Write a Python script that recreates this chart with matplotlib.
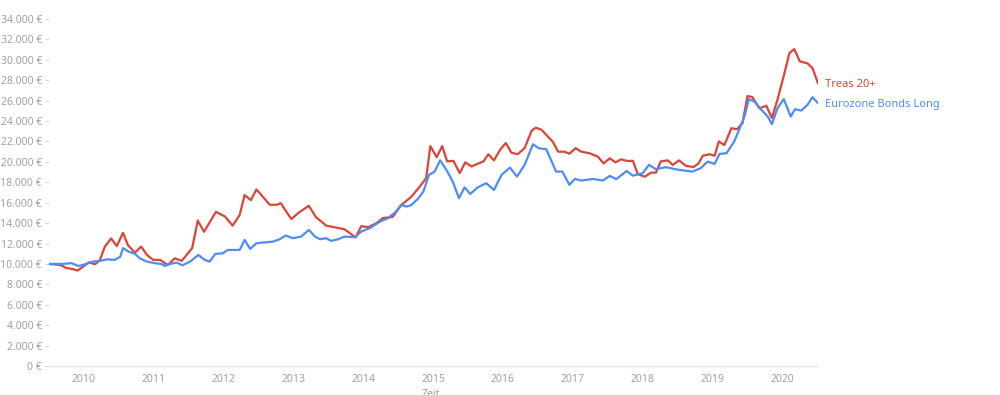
"""Treas 20+ vs Eurozone Bonds Long, growth of 10.000 €"""
import matplotlib
matplotlib.use("Agg")
from matplotlib import pyplot as plt
from matplotlib.ticker import FuncFormatter

# values (decimal year, portfolio value in €)
treas_t = [2009.50, 2009.66, 2009.75, 2009.84, 2009.91, 2009.99, 2010.07, 2010.16, 2010.23, 2010.30,
           2010.39, 2010.47, 2010.56, 2010.63, 2010.73, 2010.82, 2010.90, 2010.99, 2011.09, 2011.20,
           2011.30, 2011.40, 2011.55, 2011.63, 2011.72, 2011.89, 2012.02, 2012.13, 2012.23, 2012.30,
           2012.39, 2012.47, 2012.56, 2012.66, 2012.76, 2012.82, 2012.88, 2012.97, 2013.07, 2013.22,
           2013.32, 2013.47, 2013.62, 2013.73, 2013.81, 2013.89, 2013.97, 2014.07, 2014.19, 2014.28,
           2014.42, 2014.54, 2014.69, 2014.81, 2014.90, 2014.96, 2015.05, 2015.13, 2015.20, 2015.29,
           2015.38, 2015.46, 2015.55, 2015.65, 2015.72, 2015.79, 2015.87, 2015.96, 2016.04, 2016.12,
           2016.21, 2016.31, 2016.41, 2016.47, 2016.55, 2016.64, 2016.71, 2016.79, 2016.88, 2016.95,
           2017.04, 2017.12, 2017.24, 2017.36, 2017.44, 2017.53, 2017.61, 2017.69, 2017.77, 2017.86,
           2017.93, 2018.03, 2018.12, 2018.19, 2018.26, 2018.36, 2018.43, 2018.52, 2018.62, 2018.73,
           2018.80, 2018.86, 2018.96, 2019.03, 2019.09, 2019.17, 2019.27, 2019.35, 2019.43, 2019.50,
           2019.57, 2019.67, 2019.77, 2019.85, 2019.93, 2020.03, 2020.10, 2020.17, 2020.25, 2020.36,
           2020.43, 2020.51]
treas_v = [10000, 9900, 9600, 9500, 9350, 9750, 10150, 9970, 10400, 11700,
           12500, 11750, 13050, 11850, 11100, 11700, 10900, 10400, 10400, 9900,
           10550, 10300, 11550, 14250, 13150, 15100, 14650, 13750, 14800, 16750,
           16250, 17300, 16600, 15800, 15800, 15950, 15300, 14400, 15000, 15700,
           14600, 13750, 13550, 13400, 13000, 12600, 13700, 13600, 14000, 14500,
           14600, 15750, 16600, 17600, 18400, 21550, 20450, 21550, 20050, 20100,
           18900, 19950, 19550, 19850, 20050, 20750, 20150, 21200, 21850, 20900,
           20750, 21350, 23050, 23350, 23150, 22500, 22000, 21000, 21000, 20800,
           21350, 21000, 20850, 20500, 19850, 20350, 19950, 20250, 20100, 20100,
           18800, 18550, 18950, 18950, 20050, 20150, 19700, 20150, 19600, 19500,
           19850, 20600, 20750, 20600, 22000, 21650, 23300, 23200, 23800, 26450,
           26350, 25250, 25500, 24300, 26100, 28700, 30650, 31050, 29850, 29650,
           29200, 27700]

euro_t = [2009.50, 2009.66, 2009.73, 2009.82, 2009.92, 2010.02, 2010.13, 2010.23, 2010.33, 2010.44,
          2010.52, 2010.56, 2010.64, 2010.73, 2010.80, 2010.90, 2011.02, 2011.11, 2011.16, 2011.23,
          2011.33, 2011.41, 2011.52, 2011.64, 2011.73, 2011.80, 2011.88, 2011.99, 2012.06, 2012.23,
          2012.30, 2012.38, 2012.47, 2012.71, 2012.80, 2012.89, 2012.99, 2013.11, 2013.22, 2013.31,
          2013.38, 2013.47, 2013.54, 2013.64, 2013.73, 2013.88, 2013.97, 2014.09, 2014.24, 2014.35,
          2014.47, 2014.54, 2014.62, 2014.69, 2014.79, 2014.86, 2014.94, 2015.02, 2015.10, 2015.19,
          2015.28, 2015.37, 2015.45, 2015.53, 2015.64, 2015.76, 2015.87, 2015.98, 2016.10, 2016.20,
          2016.31, 2016.43, 2016.51, 2016.62, 2016.76, 2016.85, 2016.95, 2017.03, 2017.12, 2017.29,
          2017.43, 2017.53, 2017.62, 2017.77, 2017.86, 2018.00, 2018.09, 2018.19, 2018.33, 2018.52,
          2018.71, 2018.83, 2018.93, 2019.03, 2019.10, 2019.20, 2019.31, 2019.41, 2019.46, 2019.52,
          2019.60, 2019.70, 2019.79, 2019.85, 2019.93, 2020.02, 2020.12, 2020.18, 2020.27, 2020.36,
          2020.43, 2020.51]
euro_v = [10000, 10000, 10020, 10080, 9800, 9970, 10230, 10300, 10450, 10400,
          10700, 11550, 11200, 11000, 10550, 10230, 10070, 10000, 9800, 10000,
          10130, 9870, 10230, 10880, 10390, 10230, 10980, 11050, 11370, 11370,
          12350, 11470, 12030, 12190, 12420, 12780, 12520, 12680, 13330, 12680,
          12420, 12520, 12260, 12420, 12680, 12620, 13170, 13500, 14150, 14480,
          15130, 15780, 15620, 15780, 16440, 17090, 18730, 19050, 20150, 19220,
          18070, 16440, 17510, 16860, 17510, 17910, 17250, 18730, 19440, 18560,
          19710, 21730, 21340, 21240, 19050, 19050, 17750, 18330, 18170, 18330,
          18170, 18630, 18300, 19100, 18650, 18890, 19710, 19280, 19480, 19220,
          19050, 19380, 20030, 19800, 20780, 20850, 21990, 23630, 24510, 26150,
          25910, 25100, 24440, 23700, 25260, 26150, 24440, 25160, 25030, 25590,
          26340, 25750]

years = list(range(2010, 2021))
yticks = list(range(0, 34001, 2000))

RED = "#db4437"
BLUE = "#4e8cf5"
GREY = "#a0a0a0"

plt.rcParams['font.family'] = ['Noto Sans', 'DejaVu Sans']

fig = plt.figure(figsize=(10, 3.95), dpi=100)
ax = fig.add_axes([0.049, 1 - 366 / 395, 0.818 - 0.049, (366 - 19) / 395])

ax.plot(treas_t, treas_v, color=RED, linewidth=1.6, solid_joinstyle="round")
ax.plot(euro_t, euro_v, color=BLUE, linewidth=1.6, solid_joinstyle="round")

ax.set_xlim(2009.5, 2020.51)
ax.set_ylim(0, 34000)

ax.set_yticks(yticks)
ax.yaxis.set_major_formatter(FuncFormatter(lambda v, p: f"{int(v):,} €".replace(",", ".")))
ax.set_xticks(years)
ax.set_xticklabels([str(y) for y in years])

ax.tick_params(axis="y", length=3, width=0.6, color="#d0d0d0", labelcolor=GREY,
               labelsize=7.5, pad=2)
ax.tick_params(axis="x", length=0, labelcolor=GREY, labelsize=7.5, pad=6)

for s in ["top", "right", "left"]:
    ax.spines[s].set_visible(False)
ax.spines["bottom"].set_color("#e3e3e3")
ax.spines["bottom"].set_linewidth(1)

# end labels
ax.annotate("Treas 20+", xy=(treas_t[-1], treas_v[-1]), xytext=(5, -1),
            textcoords="offset points", color=RED, fontsize=8, va="center",
            annotation_clip=False)
ax.annotate("Eurozone Bonds Long", xy=(euro_t[-1], euro_v[-1]), xytext=(5, -1),
            textcoords="offset points", color=BLUE, fontsize=8, va="center",
            annotation_clip=False)

# axis title sits at the very bottom edge, as in the reference
fig.text(0.431, 1 - 389 / 395, "Zeit", color=GREY, fontsize=7.5, ha="center", va="top")

fig.savefig("out.png", dpi=100)
